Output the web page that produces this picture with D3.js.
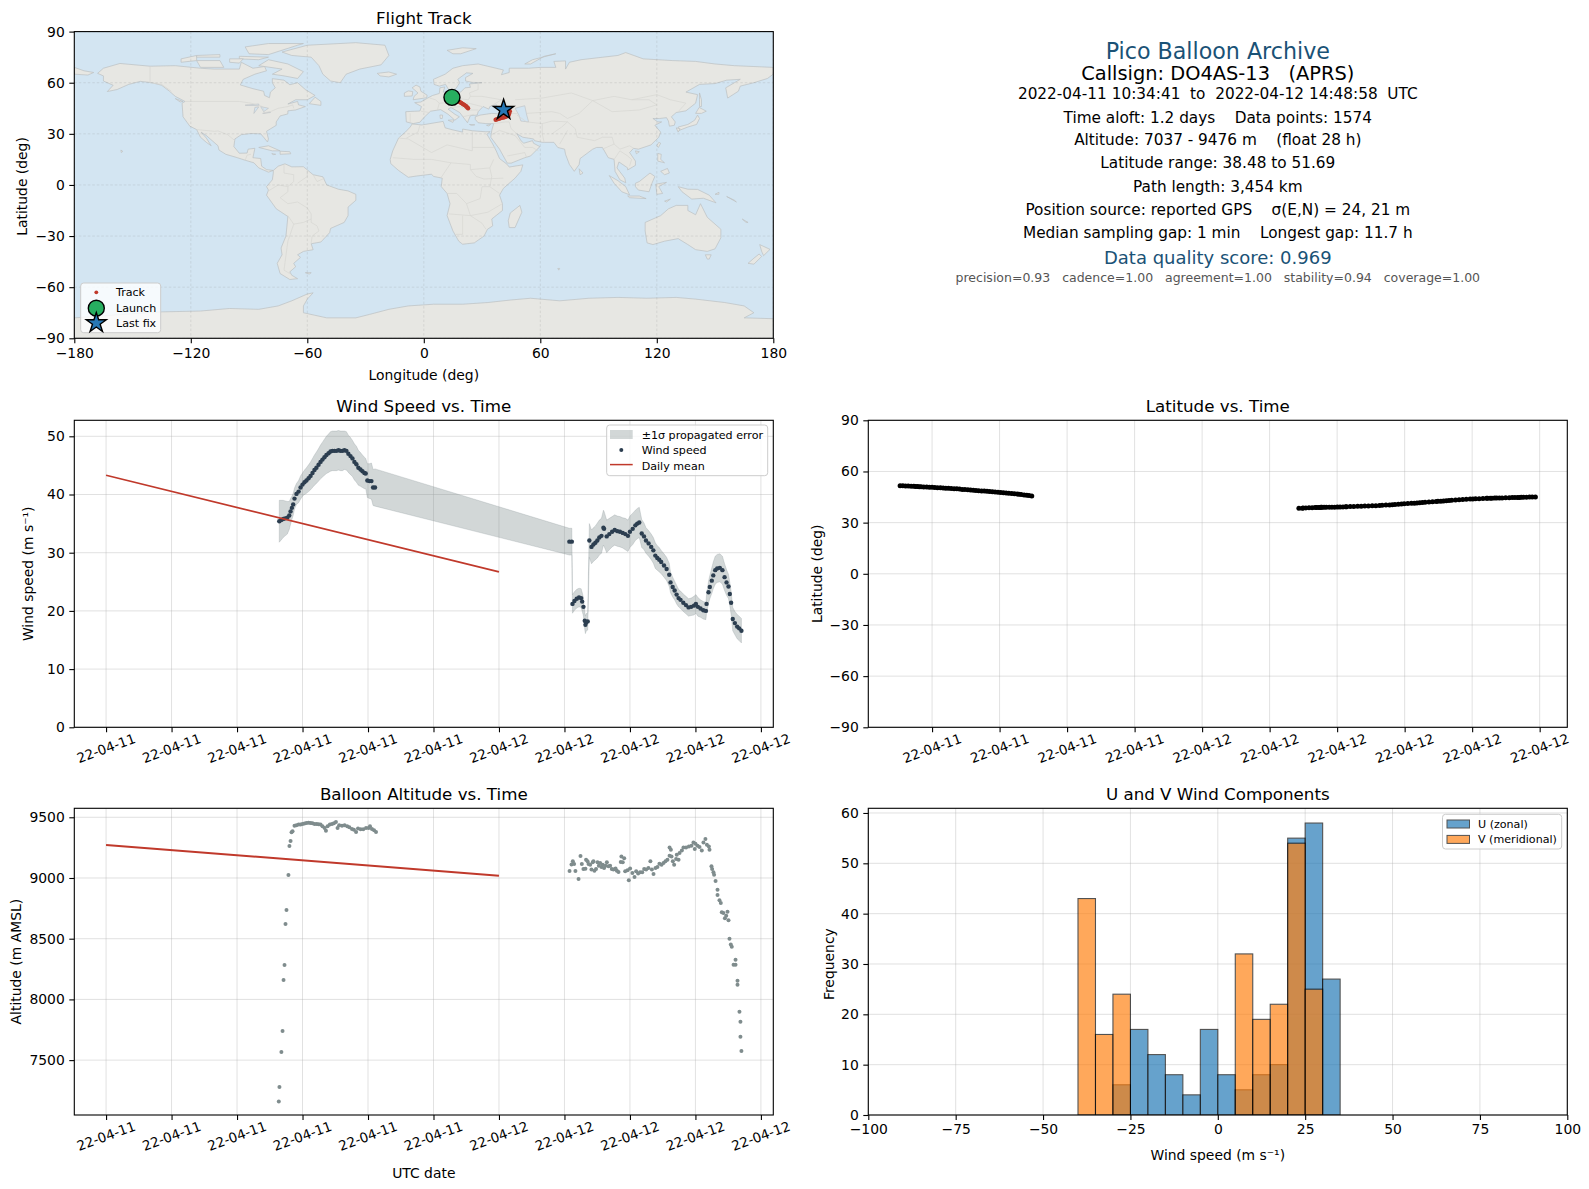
<!DOCTYPE html>
<html><head><meta charset="utf-8">
<script src="https://cdn.jsdelivr.net/npm/d3@7"></script>
<style>
html,body{margin:0;padding:0;background:#fff}
svg{display:block}
text{font-family:"DejaVu Sans",sans-serif;fill:#000;white-space:pre}
</style></head><body>
<svg id="c" width="1589" height="1189" viewBox="0 0 1589 1189"></svg>
<script>
// ---------- data ----------
const flightStart = "2022-04-11T10:34:41Z", flightEnd = "2022-04-12T14:48:58Z", dayZero = "2022-04-11T00:00:00Z";
const windHours = [
10.58,10.70,10.82,10.94,11.07,11.19,11.27,11.35,11.43,11.51,
11.63,11.76,11.88,12.00,12.12,12.24,12.37,12.49,12.61,12.73,
12.85,12.98,13.10,13.22,13.34,13.46,13.59,13.71,13.83,13.95,
14.07,14.20,14.32,14.44,14.56,14.68,14.80,14.93,15.05,15.17,
15.29,15.41,15.54,15.66,15.78,15.86,15.96,16.09,16.21,16.31,16.43,
28.30,28.45,28.49,28.61,28.75,28.89,29.02,29.08,29.16,29.24,
29.28,29.32,29.42,29.52,29.65,29.77,29.89,30.01,30.13,30.26,
30.38,30.42,30.58,30.74,30.91,31.07,31.23,31.39,31.56,31.72,
31.88,32.00,32.17,32.33,32.45,32.57,32.72,32.86,32.98,33.14,
33.30,33.43,33.55,33.67,33.79,33.91,34.08,34.24,34.40,34.48,
34.61,34.73,34.85,34.97,35.09,35.26,35.42,35.58,35.74,35.91,
36.03,36.15,36.31,36.48,36.64,36.68,36.80,36.88,37.00,37.09,
37.21,37.33,37.49,37.65,37.78,37.90,38.02,38.10,38.18,38.28,
38.41,38.55,38.67,38.81];
const windSpeed = [
35.4,35.6,35.8,35.9,36.0,36.4,37.1,37.7,38.3,39.3,
40.1,40.5,41.2,41.7,42.1,42.4,42.8,43.2,43.7,44.2,
44.6,45.1,45.6,46.0,46.4,46.8,47.1,47.4,47.5,47.5,
47.5,47.6,47.5,47.5,47.6,47.5,47.0,46.6,46.2,45.6,
45.2,44.6,44.3,44.0,43.7,43.6,42.4,42.3,42.3,41.2,41.2,
31.9,31.9,21.2,21.7,22.1,22.3,22.2,21.6,20.7,18.3,
17.6,18.0,18.2,32.1,31.0,31.4,31.7,32.1,32.6,32.9,
34.3,34.1,32.8,33.2,33.6,33.9,33.7,33.6,33.4,33.2,
32.9,33.6,34.1,34.7,35.0,35.2,33.3,32.8,32.1,31.6,
31.0,30.4,29.5,29.1,28.8,28.4,27.8,27.2,26.2,24.9,
24.1,23.5,22.8,22.2,21.9,21.4,21.0,20.6,20.7,20.9,
21.2,20.7,20.4,20.1,20.0,21.2,23.2,24.1,25.2,26.1,
27.0,27.3,27.4,27.0,25.8,24.9,24.2,22.9,21.4,18.6,
17.9,17.3,17.0,16.6];
const windSigma = [
3.6,3.4,3.2,3.0,2.8,2.4,2.2,2.0,1.9,1.8,
1.8,1.9,2.0,2.0,2.1,2.2,2.3,2.4,2.5,2.6,
2.7,2.8,2.9,3.0,3.1,3.2,3.3,3.4,3.4,3.4,
3.4,3.4,3.4,3.4,3.3,3.3,3.2,3.2,3.1,3.1,
3.1,3.0,2.9,2.8,2.7,2.6,2.9,3.0,3.1,3.1,3.2,
2.3,2.3,1.6,1.6,1.6,1.6,1.6,1.6,1.6,1.5,
1.5,1.5,1.5,2.9,2.9,2.9,2.9,3.0,3.0,3.0,
3.0,3.0,2.8,2.7,2.6,2.6,2.6,2.6,2.6,2.7,
2.7,2.7,2.7,2.6,2.6,2.6,2.4,2.3,2.2,2.2,
2.2,2.2,2.2,2.1,2.1,2.0,2.0,2.0,2.0,1.8,
1.7,1.6,1.6,1.5,1.5,1.5,1.5,1.5,1.5,1.6,
1.6,1.6,1.5,1.5,1.5,1.6,1.9,2.0,2.2,2.3,
2.4,2.4,2.4,2.4,2.3,2.2,2.1,2.0,2.0,2.0,
2.0,2.1,2.1,2.1];
const latitudeDeg = [
51.69,51.6,51.5,51.45,51.4,51.3,51.25,51.2,51.1,51.05,
50.95,50.85,50.8,50.7,50.6,50.5,50.45,50.35,50.2,50.1,
50.0,49.9,49.8,49.65,49.5,49.4,49.3,49.15,49.0,48.9,
48.75,48.6,48.5,48.35,48.2,48.05,47.95,47.8,47.65,47.5,
47.35,47.2,47.05,46.9,46.75,46.6,46.45,46.25,46.05,45.85,45.6,
38.48,38.5,38.55,38.6,38.7,38.75,38.8,38.85,38.9,38.9,
38.95,38.95,38.95,39.0,39.0,39.05,39.05,39.1,39.15,39.2,
39.3,39.3,39.4,39.45,39.55,39.6,39.7,39.8,39.85,39.95,
40.05,40.15,40.3,40.4,40.5,40.65,40.75,40.9,41.05,41.2,
41.3,41.4,41.55,41.65,41.8,41.9,42.1,42.25,42.4,42.5,
42.6,42.75,42.85,43.0,43.1,43.25,43.35,43.5,43.65,43.8,
43.85,43.95,44.05,44.15,44.25,44.25,44.3,44.3,44.4,44.4,
44.45,44.5,44.55,44.6,44.7,44.75,44.8,44.8,44.85,44.9,
44.95,45.0,45.05,45.1];
const dailyHours = [0, 24];
const dailyWind = [43.3, 26.7];
const dailyAlt = [9272, 9018];
const altHours = [
10.55,10.59,10.71,10.78,10.84,10.90,10.96,11.02,11.14,11.20,11.27,11.33,11.39,11.51,
11.63,11.76,11.88,12.00,12.12,12.24,12.37,12.49,12.61,12.73,12.86,12.98,13.10,13.22,13.35,13.43,13.53,13.67,13.80,13.92,
14.04,14.14,14.24,14.41,14.57,14.73,14.86,15.02,15.14,15.27,15.39,15.55,15.71,15.88,16.04,16.12,16.24,16.37,16.49,
28.31,28.43,28.51,28.59,28.67,28.86,28.98,29.06,29.16,29.28,29.32,29.41,29.47,29.57,29.65,29.73,29.77,29.83,29.93,30.02,
30.10,30.18,30.26,30.34,30.42,30.51,30.59,30.69,30.79,30.89,30.99,31.12,31.20,31.30,31.44,31.48,31.65,31.56,31.71,31.85,
31.93,32.01,32.15,32.28,32.38,32.50,32.62,32.75,32.87,32.99,33.13,33.25,33.34,33.44,33.56,33.68,33.80,33.93,34.05,34.17,
34.29,34.42,34.50,34.42,34.54,34.62,34.70,34.82,34.97,34.86,35.03,35.17,35.27,35.43,35.60,35.76,35.88,36.00,35.96,36.13,
36.25,36.39,36.49,36.61,36.70,36.82,36.86,36.98,37.02,37.10,37.14,37.23,37.35,37.35,37.47,37.55,37.61,37.71,37.96,37.80,
37.88,38.02,38.08,38.16,38.22,38.45,38.33,38.45,38.57,38.57,38.69,38.75,38.75,38.81];
const altMetres = [
7160,7278,7566,7739,8159,8283,8621,8736,9025,9264,9305,9376,9385,9431,
9434,9440,9440,9445,9448,9453,9456,9453,9451,9445,9445,9442,9440,9426,9412,9390,9426,9440,9445,9451,
9462,9412,9434,9431,9434,9426,9418,9404,9398,9379,9407,9401,9401,9412,9412,9426,9404,9393,9379,
9058,9112,9137,9115,9058,8992,9181,9115,9074,9077,9151,9137,9115,9110,9069,9129,9137,9060,9074,9129,
9101,9123,9090,9110,9082,9101,9129,9096,9101,9074,9069,9079,9060,9049,9132,9178,9162,9129,9055,9063,
8981,9079,9041,9008,9055,9036,9047,9047,9074,9069,9082,9137,9069,9033,9082,9090,9118,9110,9123,9137,
9151,9252,9233,9184,9178,9137,9110,9156,9151,9192,9206,9227,9252,9252,9260,9266,9293,9282,9238,9266,
9255,9227,9293,9321,9274,9260,9233,9096,9074,9047,9027,8975,8904,8860,8816,8795,8718,8712,8721,8668,
8690,8652,8499,8452,8433,8326,8285,8285,8153,8120,7899,7816,7693,7575];
const binEdges = [-40,-35,-30,-25,-20,-15,-10,-5,0,5,10,15,20,25,30,35];
const uCounts = [0,0,6,17,12,8,4,17,8,5,8,10,55,58,27];
const vCounts = [43,16,24,0,0,0,0,0,0,32,19,22,54,25,0];
const trackLon = [14.5,15.3,16.1,16.9,17.7,18.5,19.3,20.1,20.9,21.7,22.3,22.8,
  37,37.6,38.2,38.8,39.5,40.2,41,41.7,42.4,43,43.6,44,44.3,43.6,42.8,42,41.1];
const trackLat = [51.7,51.1,50.5,49.9,49.3,48.7,48.1,47.5,46.9,46.3,45.6,45,
  38.3,38.5,38.7,38.9,39.2,39.4,39.6,39.8,40.1,40.4,40.8,42,43.3,43.7,43.9,44,44.1];
const launchFix = [14.5, 51.4];
const lastFix = [41.1, 44.1];
const lonTicks = [-180,-120,-60,0,60,120,180];
const latTicks = [-90,-60,-30,0,30,60,90];
const windTicks = [0,10,20,30,40,50];
const altTicks = [7500,8000,8500,9000,9500];
const histXTicks = [-100,-75,-50,-25,0,25,50,75,100];
const histYTicks = [0,10,20,30,40,50,60];
const infoLines = [
 ["Pico Balloon Archive",22.2,"#1a5276",50.7],
 ["Callsign: DO4AS-13   (APRS)",19.4,"#000",73],
 ["2022-04-11 10:34:41  to  2022-04-12 14:48:58  UTC",15.3,"#000",94.3],
 ["Time aloft: 1.2 days    Data points: 1574",15.3,"#000",117.6],
 ["Altitude: 7037 - 9476 m    (float 28 h)",15.3,"#000",139.9],
 ["Latitude range: 38.48 to 51.69",15.3,"#000",163.2],
 ["Path length: 3,454 km",15.3,"#000",186.5],
 ["Position source: reported GPS    σ(E,N) = 24, 21 m",15.3,"#000",209.8],
 ["Median sampling gap: 1 min    Longest gap: 11.7 h",15.3,"#000",233],
 ["Data quality score: 0.969",18,"#1a5276",257.4],
 ["precision=0.93   cadence=1.00   agreement=1.00   stability=0.94   coverage=1.00",12.5,"#555",277.7]
];
// coarse coastline outlines, lon/lat
const landPolygons = [
 [[-165,68.5],[-156.5,71.3],[-141,69.7],[-128,70],[-115,68.5],[-108,68],[-95,68],[-94,72],[-88,68.5],[-82,69.5],[-81,67],[-87,65],[-93,62],[-94.5,58.7],[-88,56.5],[-82.5,55],[-82,52.5],[-79.5,51.2],[-79,54.5],[-76.5,57],[-78,60],[-78,62.4],[-72,61.5],[-69,58.8],[-65,60],[-61,56],[-56,52.5],[-60,50],[-66,50],[-70,47.5],[-65,49],[-64.5,47],[-61,46],[-66,44],[-70,43.5],[-70,41.7],[-74,40.5],[-76,37],[-76,35],[-81,31.5],[-80,27],[-80.5,25.2],[-82.5,28],[-84,30],[-89,30.2],[-94,29.5],[-97.3,27],[-97.8,22.5],[-95,18.6],[-91,18.7],[-90.5,21],[-87,21.5],[-88,16],[-84,15.5],[-83.5,11],[-81,9],[-77.5,8.5],[-80,7.5],[-85,10],[-87.5,13],[-92,14.5],[-96,16],[-102,18],[-105.5,20.5],[-106,23],[-112,29],[-114.7,31],[-112,27.5],[-109.5,23],[-112,25],[-115,28],[-117,32.5],[-120.5,34.5],[-124,40],[-124.5,48],[-123,49],[-128,52],[-131,55],[-135,58.5],[-140,60],[-146,60.8],[-152,59],[-158,56],[-163,54.8],[-160,58.5],[-165,61],[-165,64],[-168,65.5]],
 [[-73,78],[-60,82],[-35,83.5],[-20,82],[-18,76],[-22,70.5],[-33,68],[-40,65],[-43,60],[-48,61],[-52,65],[-54,70],[-58,75],[-68,76]],
 [[-80,73.5],[-70,71],[-62,66.5],[-65,62.5],[-72,64],[-78,65],[-73,68],[-85,70]],
 [[-117,73],[-105,73],[-103,69],[-115,69]],[[-125,74],[-117,76],[-117,73],[-125,72]],
 [[-90,77],[-80,76.5],[-65,82],[-62,83],[-80,83],[-92,81]],[[-95,75.5],[-80,75],[-85,73.5],[-95,74]],
 [[-117,76],[-105,76.5],[-105,75],[-117,75]],[[-100,74],[-93,74],[-95,71.5],[-100,72]],
 [[-59,47.7],[-53,46.7],[-53,49],[-56,51.5]],[[-85,22],[-80,23],[-74,20],[-78,20]],[[-74,19.8],[-69,19.5],[-68.5,18.3],[-74,18]],
 [[-128,50.7],[-124,49],[-125.5,48.7]],[[-156,20.5],[-155,19.7],[-155.8,19]],[[-78.3,18.4],[-76.3,18],[-77.5,17.8]],
 [[-77.5,8.5],[-75,11],[-71.5,12.4],[-68,10.6],[-62,10.7],[-57,6],[-52,4.8],[-50,0],[-44,-2.5],[-39,-3.5],[-35,-5.5],[-35,-9],[-39,-13],[-39,-18],[-41,-22],[-48,-25.5],[-48.5,-28],[-53,-33.5],[-58,-34.5],[-57,-38],[-62,-39],[-65,-41],[-63.5,-42.5],[-67,-46],[-66,-48],[-69,-51],[-68,-53],[-65,-55],[-69,-55.5],[-74,-52],[-75.5,-46],[-73,-41],[-73.5,-37],[-71,-30],[-70,-18.5],[-76,-14],[-81,-6],[-80,-3],[-81,-1],[-78,3],[-77.5,7]],
 [[-61,-51.5],[-58,-51.5],[-59,-52.3]],
 [[-6,35.8],[-1,35.2],[10,37.3],[11,33.5],[15,32.3],[20,31],[20,32.8],[25,31.8],[32,31.2],[34.2,31.3],[32.5,29.8],[35.5,24],[37.3,20],[39,15.5],[43,12],[44,10.5],[51,11.8],[50,8],[47,4],[41,-2],[39,-6],[40.5,-11],[40.5,-15],[35,-20],[35.5,-24],[32.8,-26],[31,-30],[26,-34],[20,-34.8],[18,-33],[15,-27],[12,-18],[13.5,-11],[12,-5],[9,-1],[9.5,4],[5,5],[4,6.3],[-4,5.2],[-8,4.5],[-13,8.5],[-17,12.5],[-17.3,15],[-16,20],[-13,27.5],[-9.5,31],[-7,34]],
 [[49.5,-12],[50.5,-16],[47,-25],[44,-25],[43.5,-21],[44.5,-16.5]],
 [[-9,37],[-9.3,43],[-2,43.4],[-1.2,46],[-4.7,48.3],[-1.5,48.7],[2,51],[4.5,52.5],[8,53.7],[8.3,57],[10.8,57.5],[10,54.5],[14,54],[19,54.5],[21.2,57],[24,57.3],[23.5,59.3],[30,60],[25,60.2],[21.5,61],[21.5,63],[25.3,65.5],[22,65.8],[17.5,62],[18.5,60],[16.5,56.5],[14.3,55.5],[12.8,56],[11.2,59],[8,58],[5.3,59],[5,62],[11,65],[15,68.5],[20,70],[28,71],[41,67.5],[40,64.7],[44,66],[44,68.5],[54,68.5],[60,69],[68,69],[67,72.5],[73,72.8],[73,68],[75,72],[81,73.5],[100,76],[104,77.7],[113,74],[128,73],[140,72.5],[150,71],[160,70],[170,69.5],[180,69],[180,65],[177,62.5],[170,60],[163,58],[162,55],[156.5,51],[155.5,57],[163,62],[156,61.5],[150,59.5],[142,59],[135,54.5],[141,53],[140,48],[135,43.5],[130,42.5],[127.5,40],[129.5,37],[129,35],[126.5,34.5],[126,37.5],[125,39.5],[121.5,39],[118,39],[120.5,37],[122.5,37],[119,35],[122,31],[121,28],[117,23.5],[110.5,21],[108,21.5],[106,19],[109,14],[109,11.5],[105,8.8],[105,10],[100.5,13.5],[99.5,10],[103.5,4],[104,1.3],[101,3],[98.5,8],[98,15],[95,16],[94,18],[92,22],[89,22],[87,21],[80.5,15.5],[80,12],[77.5,8],[75,12],[73,18],[72.5,21],[69,22],[67,25],[61,25],[57,26],[56.5,27],[51,28],[48,30],[50,26],[51.5,24.5],[56,26],[56.5,24.5],[59.8,22.5],[55,17],[52,16],[45,12.8],[43,12.8],[39,21],[34.5,28],[35,32],[36,36],[32,36],[28,36.5],[26.5,38.5],[26.5,40],[29,41],[35,42],[41,41.5],[38,44.5],[37.5,47],[34,46],[33.5,44.5],[30.5,46],[28,43],[27.5,41],[24,40.7],[23,38],[22.5,36.5],[19.5,41],[18.5,42.5],[14,45.5],[12.5,44.5],[16,41.5],[18.3,40],[16,38],[12.5,41.5],[8.7,44.2],[3.5,43.3],[0,39.5],[-2,36.8],[-5.5,36]],
 [[-180,69],[-175,67],[-170,66],[-173,64.5],[-180,65]],
 [[-5.5,50],[1.5,51.2],[1.7,52.7],[-1.5,55],[-2,57.5],[-4,58.6],[-6,57],[-3,54],[-5,52]],[[-10,52],[-6,52.2],[-5.7,54.8],[-8,55.2],[-10,54]],
 [[-24,65.5],[-18,66.3],[-14,65],[-18,63.4],[-22.5,64]],[[12,79],[20,80.5],[27,80],[19,77],[15,77]],[[52,71],[56,73.5],[68,77],[62,75.5],[55,71]],
 [[12.5,38],[15.5,38.2],[15,36.7]],[[8.3,41],[9.7,41],[9.5,39],[8.5,39]],[[23.5,35.5],[26.3,35.3],[24.5,35]],[[32.3,35],[34.5,35.6],[33.5,34.6]],
 [[80,9.5],[82,7],[80.5,6]],[[131,34],[136,35.5],[139.5,38],[141,41],[142,39],[140.5,35.5],[136,34],[131.5,32]],[[140,42],[141.8,45.5],[145.5,43.3],[143,42]],[[130,33.5],[132,33],[131,31]],
 [[142,54],[143,50],[143,46],[142,46],[142,50]],[[121,25],[122,24.5],[120.8,22],[120,23]],[[109,20],[111,19.5],[109.5,18.3]],
 [[120.5,18.5],[122.3,18],[122,15],[124,13],[120.5,14]],[[122,8],[125.5,9.7],[126.5,7],[124,6]],[[95.5,5.5],[100,2.5],[104,-1],[106,-5.8],[102,-4],[98,1]],
 [[105,-6.5],[111,-6.5],[114.5,-8],[106,-7.5]],[[109,1],[111,2],[116.5,7],[119,5],[117.5,1],[116,-4],[110.5,-3],[109,-1]],[[119.5,0.5],[125,1.5],[121,-1],[123,-5],[120,-5.5]],
 [[131,-1],[136,-2.5],[141,-2.6],[147,-6],[150.5,-10.5],[144,-7.8],[138,-8.3],[133,-4]],[[124,-9.5],[127,-8.3],[125,-10]],[[150,-5.5],[152,-4.3],[152,-5.5]],[[156,-6.8],[160,-9],[161,-10]],
 [[114,-22],[122,-18],[126,-14],[130,-12],[136,-12],[136,-15],[140,-17.5],[142.5,-11],[146,-19],[153,-26],[153,-31],[150,-37.5],[146,-39],[140,-38],[136,-35],[131,-31.5],[124,-33],[118,-35],[115,-34],[114,-27]],
 [[145,-41],[148,-41],[147,-43.5],[146,-43.5]],[[173,-35],[178.3,-37.8],[175,-41.5],[174,-39]],[[172.7,-40.5],[174,-42],[170,-46.5],[167,-46],[170,-43]],[[164,-20],[167,-22],[166,-22]],[[69,-49],[70,-49],[69.5,-50]],
 [[-180,-78],[-155,-76],[-135,-74.5],[-115,-74],[-100,-72.5],[-85,-73],[-75,-71],[-68,-68],[-60,-64],[-57,-63.3],[-60,-67],[-62,-71],[-62,-75],[-50,-78],[-35,-78],[-28,-76],[-18,-73],[-8,-71],[5,-70],[20,-70],[33,-69],[45,-67.5],[55,-66.5],[70,-68],[85,-66.5],[100,-66],[115,-66.5],[130,-66],[140,-67],[155,-69],[165,-71],[170,-75],[165,-78],[180,-78.5],[180,-90],[-180,-90]]
];
const waterPolygons = [
 [[47,45],[52,46.5],[53,41],[54,37],[50,37.5],[49,41]],[[-92,46.8],[-85,47.5],[-85,46.5]],[[-87.5,42],[-85,45.8],[-87,45.5]],[[-84,46],[-80,45],[-82.5,43]],[[-83,42],[-79,42.8],[-79,42.5]]
];
const borderLines = [
 [[-141,69.7],[-141,60],[-135,59],[-130,55]],[[-123,49],[-95,49],[-89,48],[-83,46],[-82,42.5],[-79,43],[-75,45],[-70,46],[-67.5,47],[-67,45]],
 [[-117,32.5],[-108,31.5],[-106,31.7],[-101,29.5],[-97.3,26]],[[-92,14.5],[-91,17.5],[-89,18]],
 [[-72,12],[-72,7],[-67,6],[-67,2],[-70,-1],[-70,-4],[-74,-7.5],[-70,-11],[-65,-10],[-60,-13.5],[-58,-17],[-58,-22],[-55,-24],[-54,-27],[-57.5,-30],[-58,-34]],
 [[-60,8.5],[-60,5],[-65,1]],[[-80,-3.5],[-75,0],[-70,-1]],[[-70,-18],[-67,-23],[-70,-33],[-72,-50],[-69,-52]],[[-67,-23],[-62,-22],[-58,-20]],[[-57,6],[-55,2],[-51,4]],
 [[-9,27.5],[-3,31],[-2,35]],[[-13,27.5],[-8,27],[4,19],[12,23.5],[25,20],[25,31.5]],[[25,22],[37,22]],[[-16,16],[-5,15],[4,15],[14,13],[24,12],[24,9],[34,10],[36,15]],[[14,13],[9,4.5]],[[24,9],[27,5],[31,3.5],[41,4]],[[34,10],[35,5],[34,-1],[39,-5]],[[12,-5],[17,-5],[22,-11],[24,-18],[13,-17]],[[34,-1],[30,-1],[29,-8],[22,-11]],[[24,-18],[33,-16],[40.5,-11]],[[20,-18],[20,-29],[16.5,-29]],[[24,-18],[30,-22.5],[32,-26]],
 [[3,51],[6,50],[8,48],[7,44]],[[-1.5,43.3],[3,42.5]],[[-7,37],[-7,42]],[[14,54],[15,51],[23,50],[24,52],[23.5,54],[28,56],[28,60]],[[8,48],[17,48.5],[23,48],[30,46]],[[14,45.5],[19,46],[22.5,44],[28,44]],[[20,40],[26,41.5]],[[40,43.5],[46,42],[48.5,41.8]],[[40,50],[30,52],[24,52]],[[40,50],[35,46.5]],
 [[47,50],[61,51],[76,54],[87,49.5],[98,52],[107,50],[120,53],[127,50],[135,48],[131,43]],[[87,49.5],[97,43],[111,44],[120,47],[116,50],[107,50]],[[74,39],[80,42],[87,49.5]],[[48,41],[53,37],[61,36],[66,37.5],[74,37]],[[53,42],[66,43],[70,42],[74,39]],[[61,36],[61,30],[62,25]],[[66,30],[71,34],[74,37],[78,33],[79,28],[88,26],[92,28],[97,28],[98,24],[101,21],[106,23],[108,21.5]],[[70,24],[74,32]],[[44,37],[45,33],[48,30]],[[36,36],[42,37],[44,37]],[[39,32],[34.9,29.5]],[[39,32],[47,29],[52,22],[56,22],[59,20]],[[43,17],[52,19],[53,16]],[[92,21],[98,24]],[[98,15],[101,20],[105,17],[107,15],[106,11]]
];
// ---------- helpers ----------
const svg = d3.select("#c");
const when = h => new Date(+new Date(dayZero) + h*3.6e6);
const fmtDate = d3.utcFormat("%y-%m-%d");
const margin = (a,b) => { const s=+b-+a; return [new Date(+a-.05*s), new Date(+b+.05*s)]; };
const RED="#c0392b", NAVY="#2c3e50", SLATE="#7f8c8d";
let clipN=0;
function panel(x0,x1,y0,y1,title,xScale,yScale,xTicks,yTicks,opts={}){
  const g=svg.append("g");
  const id="clip"+(clipN++);
  g.append("clipPath").attr("id",id).append("rect").attr("x",x0).attr("y",y0).attr("width",x1-x0).attr("height",y1-y0);
  const back=g.append("g");
  const body=g.append("g").attr("clip-path",`url(#${id})`);
  const drawGrid=(parent)=>{
    const dash=opts.gridDash||null, col=opts.gridColor||"#b0b0b0", op=opts.gridOpacity||0.38, w=opts.gridWidth||1;
    parent.selectAll("line.gx").data(xTicks).join("line").attr("class","gx")
      .attr("x1",d=>xScale(d)).attr("x2",d=>xScale(d)).attr("y1",y0).attr("y2",y1)
      .attr("stroke",col).attr("stroke-opacity",op).attr("stroke-width",w).attr("stroke-dasharray",dash);
    parent.selectAll("line.gy").data(yTicks).join("line").attr("class","gy")
      .attr("x1",x0).attr("x2",x1).attr("y1",d=>yScale(d)).attr("y2",d=>yScale(d))
      .attr("stroke",col).attr("stroke-opacity",op).attr("stroke-width",w).attr("stroke-dasharray",dash);
  };
  const axes=g.append("g");
  g.append("rect").attr("x",x0).attr("y",y0).attr("width",x1-x0).attr("height",y1-y0).attr("fill","none").attr("stroke","#000").attr("stroke-width",1.1);
  const ax=d3.axisBottom(xScale).tickValues(xTicks).tickSize(5).tickPadding(4.5);
  if(opts.dateX) ax.tickFormat(fmtDate);
  const ay=d3.axisLeft(yScale).tickValues(yTicks).tickSize(5).tickPadding(4.5);
  if(opts.yFmt) ay.tickFormat(opts.yFmt);
  const gx=axes.append("g").attr("transform",`translate(0,${y1})`).call(ax);
  const gy=axes.append("g").attr("transform",`translate(${x0},0)`).call(ay);
  [gx,gy].forEach(a=>{a.select(".domain").remove();a.selectAll("line").attr("stroke","#000").attr("stroke-width",1.1);a.selectAll("text").attr("font-size",13.9).attr("font-family","DejaVu Sans").attr("fill","#000");});
  if(opts.dateX){
    gx.selectAll("text").attr("y",0).attr("dy","0.35em").attr("text-anchor","middle").attr("font-size",13.5).attr("transform","translate(-0.5,21) rotate(-20)");
  }
  g.append("text").attr("x",(x0+x1)/2).attr("y",y0-8).attr("text-anchor","middle").attr("font-size",16.7).text(title);
  if(opts.xLabel) g.append("text").attr("x",(x0+x1)/2).attr("y",opts.xLabelY).attr("text-anchor","middle").attr("font-size",13.9).text(opts.xLabel);
  if(opts.yLabel) g.append("text").attr("transform",`translate(${opts.yLabelX},${(y0+y1)/2+(opts.yLabelShift||0)}) rotate(-90)`).attr("text-anchor","middle").attr("dominant-baseline","central").attr("font-size",13.9).text(opts.yLabel);
  return {g,back,body,drawGrid};
}
function legendBox(x,y,w,h){
  svg.append("rect").attr("x",x).attr("y",y).attr("width",w).attr("height",h).attr("rx",3).attr("fill","#fff").attr("fill-opacity",.8).attr("stroke","#ccc").attr("stroke-width",1);
}
function legendText(x,y,t){ svg.append("text").attr("x",x).attr("y",y).attr("dominant-baseline","central").attr("font-size",11.1).text(t); }

const LX0=74.3,LX1=773.3,RX0=868.3,RX1=1567.3;
const R1=[31.6,338.3],R2=[420.3,727.3],R3=[808.3,1115];

// ---------- flight track map ----------
{
 const x=d3.scaleLinear().domain([-180,180]).range([LX0,LX1]);
 const y=d3.scaleLinear().domain([-90,90]).range([R1[1],R1[0]]);
 const p=panel(LX0,LX1,R1[0],R1[1],"Flight Track",x,y,lonTicks,latTicks,{gridDash:"2.5,2",gridColor:"#808080",gridOpacity:.25,gridWidth:.7,xLabel:"Longitude (deg)",xLabelY:379.5,yLabel:"Latitude (deg)",yLabelX:22.3,yLabelShift:1.5});
 p.body.append("rect").attr("x",LX0).attr("y",R1[0]).attr("width",LX1-LX0).attr("height",R1[1]-R1[0]).attr("fill","#d3e5f2");
 const geo=d3.line().x(d=>x(d[0])).y(d=>y(d[1]));
 p.body.selectAll("path.land").data(landPolygons).join("path").attr("class","land").attr("d",d=>geo(d)+"Z").attr("fill","#e7e7e3").attr("stroke","#bcc0c2").attr("stroke-width",.7).attr("stroke-linejoin","round");
 p.body.selectAll("path.water").data(waterPolygons).join("path").attr("class","water").attr("d",d=>geo(d)+"Z").attr("fill","#d3e5f2").attr("stroke","#bcc0c2").attr("stroke-width",.6);
 p.body.selectAll("path.border").data(borderLines).join("path").attr("class","border").attr("d",geo).attr("fill","none").attr("stroke","#d7d7d3").attr("stroke-width",.7);
 p.drawGrid(p.body.append("g"));
 p.body.selectAll("circle.trk").data(trackLon).join("circle").attr("class","trk").attr("cx",d=>x(d)).attr("cy",(d,i)=>y(trackLat[i])).attr("r",2.2).attr("fill",RED);
 p.body.append("circle").attr("cx",x(launchFix[0])).attr("cy",y(launchFix[1])).attr("r",8).attr("fill","#27ae60").attr("stroke","#000").attr("stroke-width",1.4);
 const star=d3.symbol().type(d3.symbolStar).size(125);
 p.body.append("path").attr("d",star()).attr("transform",`translate(${x(lastFix[0])},${y(lastFix[1])})`).attr("fill","#2878b5").attr("stroke","#000").attr("stroke-width",1.4);
 // legend
 legendBox(80.7,283,80,49.7);
 svg.append("circle").attr("cx",96.3).attr("cy",292.3).attr("r",1.9).attr("fill",RED);
 svg.append("circle").attr("cx",96.3).attr("cy",308.2).attr("r",8).attr("fill","#27ae60").attr("stroke","#000").attr("stroke-width",1.4);
 svg.append("path").attr("d",star()).attr("transform","translate(96.3,323)").attr("fill","#2878b5").attr("stroke","#000").attr("stroke-width",1.4);
 legendText(116,292.3,"Track"); legendText(116,308.2,"Launch"); legendText(116,323,"Last fix");
}
// ---------- info text ----------
svg.append("g").selectAll("text").data(infoLines).join("text")
  .attr("x",1217.8).attr("y",d=>d[3]).attr("text-anchor","middle").attr("dominant-baseline","central")
  .attr("font-size",d=>d[1]).style("fill",d=>d[2]).text(d=>d[0]);
// ---------- time panels ----------
const longDomain=margin(new Date(dayZero),new Date(flightEnd));
const every4=d3.utcHour.every(4).range(new Date(dayZero),new Date(+new Date(flightEnd)+3.6e6*2));
{
 const x=d3.scaleUtc().domain(longDomain).range([LX0,LX1]);
 const y=d3.scaleLinear().domain([0,52.75]).range([R2[1],R2[0]]);
 const p=panel(LX0,LX1,R2[0],R2[1],"Wind Speed vs. Time",x,y,every4,windTicks,{dateX:true,yLabel:"Wind speed (m s⁻¹)",yLabelX:28.4});
 p.drawGrid(p.back);
 const band=d3.area().x((d,i)=>x(when(d))).y0((d,i)=>y(windSpeed[i]-windSigma[i])).y1((d,i)=>y(windSpeed[i]+windSigma[i]));
 p.body.append("path").attr("d",band(windHours)).attr("fill",SLATE).attr("fill-opacity",.35).attr("stroke",SLATE).attr("stroke-opacity",.3).attr("stroke-width",.8);
 p.body.selectAll("circle").data(windHours).join("circle").attr("cx",d=>x(when(d))).attr("cy",(d,i)=>y(windSpeed[i])).attr("r",2.2).attr("fill",NAVY);
 p.body.append("path").attr("d",d3.line().x(d=>x(when(d))).y((d,i)=>y(dailyWind[i]))(dailyHours)).attr("fill","none").attr("stroke",RED).attr("stroke-width",1.7);
 legendBox(606.7,425,161,50.7);
 svg.append("rect").attr("x",610).attr("y",430).attr("width",22.7).attr("height",9).attr("fill",SLATE).attr("fill-opacity",.35);
 svg.append("circle").attr("cx",621.3).attr("cy",450).attr("r",2).attr("fill",NAVY);
 svg.append("line").attr("x1",610).attr("x2",632.7).attr("y1",464.6).attr("y2",464.6).attr("stroke",RED).attr("stroke-width",1.5);
 legendText(641.7,435.2,"±1σ propagated error"); legendText(641.7,450.2,"Wind speed"); legendText(641.7,466,"Daily mean");
}
{
 const dom=margin(new Date(flightStart),new Date(flightEnd));
 const ticks=d3.utcHour.every(3).range(dom[0],dom[1]);
 const x=d3.scaleUtc().domain(dom).range([RX0,RX1]);
 const y=d3.scaleLinear().domain([-90,90]).range([R2[1],R2[0]]);
 const p=panel(RX0,RX1,R2[0],R2[1],"Latitude vs. Time",x,y,ticks,latTicks,{dateX:true,yLabel:"Latitude (deg)",yLabelX:817});
 p.drawGrid(p.back);
 p.body.selectAll("circle").data(windHours).join("circle").attr("cx",d=>x(when(d))).attr("cy",(d,i)=>y(latitudeDeg[i])).attr("r",2.5).attr("fill","#000");
}
{
 const x=d3.scaleUtc().domain(longDomain).range([LX0,LX1]);
 const y=d3.scaleLinear().domain([7048,9574]).range([R3[1],R3[0]]);
 const p=panel(LX0,LX1,R3[0],R3[1],"Balloon Altitude vs. Time",x,y,every4,altTicks,{dateX:true,yFmt:d3.format("d"),yLabel:"Altitude (m AMSL)",yLabelX:16.2,xLabel:"UTC date",xLabelY:1178});
 p.drawGrid(p.back);
 p.body.selectAll("circle").data(altHours).join("circle").attr("cx",d=>x(when(d))).attr("cy",(d,i)=>y(altMetres[i])).attr("r",2).attr("fill",SLATE);
 p.body.append("path").attr("d",d3.line().x(d=>x(when(d))).y((d,i)=>y(dailyAlt[i]))(dailyHours)).attr("fill","none").attr("stroke",RED).attr("stroke-width",2);
}
// ---------- histogram ----------
{
 const x=d3.scaleLinear().domain([-100,100]).range([RX0,RX1]);
 const y=d3.scaleLinear().domain([0,60.93]).range([R3[1],R3[0]]);
 const p=panel(RX0,RX1,R3[0],R3[1],"U and V Wind Components",x,y,histXTicks,histYTicks,{yLabel:"Frequency",yLabelX:829,yLabelShift:2.5,xLabel:"Wind speed (m s⁻¹)",xLabelY:1160});
 p.drawGrid(p.back);
 const bars=(counts,color)=>p.body.append("g").selectAll("rect").data(counts.map((c,i)=>({c,i})).filter(d=>d.c>0)).join("rect")
   .attr("x",d=>x(binEdges[d.i])).attr("width",d=>x(binEdges[d.i+1])-x(binEdges[d.i]))
   .attr("y",d=>y(d.c)).attr("height",d=>y(0)-y(d.c)).attr("fill",color).attr("stroke","#000").attr("stroke-width",1.1).attr("opacity",.68);
 bars(uCounts,"#1f77b4"); bars(vCounts,"#ff7f0e");
 legendBox(1442.5,814.3,119.2,34.7);
 svg.append("rect").attr("x",1447).attr("y",820).attr("width",22.5).attr("height",8).attr("fill","#1f77b4").attr("stroke","#000").attr("opacity",.68);
 svg.append("rect").attr("x",1447).attr("y",835.4).attr("width",22.5).attr("height",8).attr("fill","#ff7f0e").attr("stroke","#000").attr("opacity",.68);
 legendText(1478,824.2,"U (zonal)"); legendText(1478,839.5,"V (meridional)");
}
</script>
</body></html>
